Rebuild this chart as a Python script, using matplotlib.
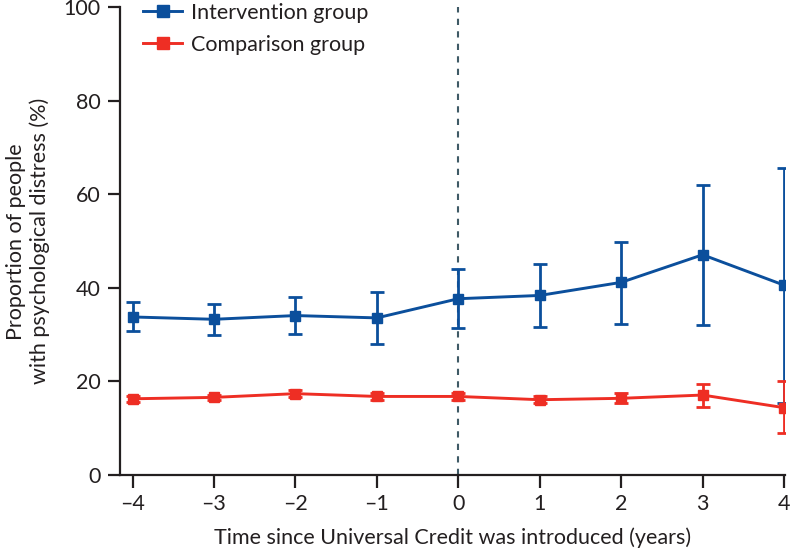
import matplotlib
matplotlib.use("Agg")
import matplotlib.pyplot as plt
from matplotlib.lines import Line2D

plt.rcParams['font.family'] = ['Lato', 'DejaVu Sans']

years = [-4, -3, -2, -1, 0, 1, 2, 3, 4]

# intervention group: estimate, lower, upper (%)
interv = [33.8, 33.3, 34.1, 33.6, 37.7, 38.4, 41.2, 47.1, 40.6]
interv_lo = [30.7, 29.9, 30.1, 28.1, 31.4, 31.6, 32.4, 32.1, 15.4]
interv_hi = [36.9, 36.6, 38.1, 39.1, 44.0, 45.2, 49.9, 62.0, 65.6]

# comparison group
comp = [16.3, 16.6, 17.4, 16.8, 16.8, 16.1, 16.4, 17.1, 14.4]
comp_lo = [15.7, 16.0, 16.7, 16.1, 16.0, 15.4, 15.3, 14.6, 8.9]
comp_hi = [16.9, 17.2, 18.1, 17.5, 17.6, 16.8, 17.5, 19.5, 20.2]

blue = '#0b4f9c'
red = '#ee2e24'
ink = '#231f20'
fs = 15.5

fig = plt.figure(figsize=(7.92, 5.54), dpi=100)
ax = fig.add_axes([0.1515, 0.1426, 0.8395, 0.844])

ax.axvline(0, color='#3f5a66', lw=1.5, ls=(0, (3, 3)), zorder=1)

def draw(vals, lo, hi, color):
    err = [[v - l for v, l in zip(vals, lo)], [h - v for v, h in zip(vals, hi)]]
    ax.errorbar(years, vals, yerr=err, color=color, lw=2.1, marker='s', ms=7,
                capsize=5, capthick=2, elinewidth=2, zorder=3)

draw(interv, interv_lo, interv_hi, blue)
draw(comp, comp_lo, comp_hi, red)

ax.set_xlim(-4.155, 4.01)
ax.set_ylim(0, 100)
ax.set_xticks(years)
ax.set_xticklabels([str(y).replace('-', '\u2013') for y in years])
ax.set_yticks([0, 20, 40, 60, 80, 100])

for s in ['top', 'right']:
    ax.spines[s].set_visible(False)
for s in ['left', 'bottom']:
    ax.spines[s].set_linewidth(1.6)
    ax.spines[s].set_color(ink)
ax.tick_params(direction='out', length=9, width=1.6, labelsize=fs,
               colors=ink, pad=5)

ax.set_xlabel('Time since Universal Credit was introduced (years)', fontsize=fs,
              color=ink, labelpad=9)
ax.set_ylabel('Proportion of people\nwith psychological distress (%)', fontsize=fs,
              color=ink, labelpad=10, linespacing=1.15)

handles = [Line2D([], [], color=blue, lw=2.1, marker='s', ms=9),
           Line2D([], [], color=red, lw=2.1, marker='s', ms=9)]
leg = ax.legend(handles, ['Intervention group', 'Comparison group'],
                loc='upper left', bbox_to_anchor=(0.035, 1.01), frameon=False,
                fontsize=fs, handlelength=1.8, labelspacing=0.55,
                handletextpad=0.4, borderaxespad=0, borderpad=0)
for t in leg.get_texts():
    t.set_color(ink)

fig.savefig('out.png', dpi=100)
